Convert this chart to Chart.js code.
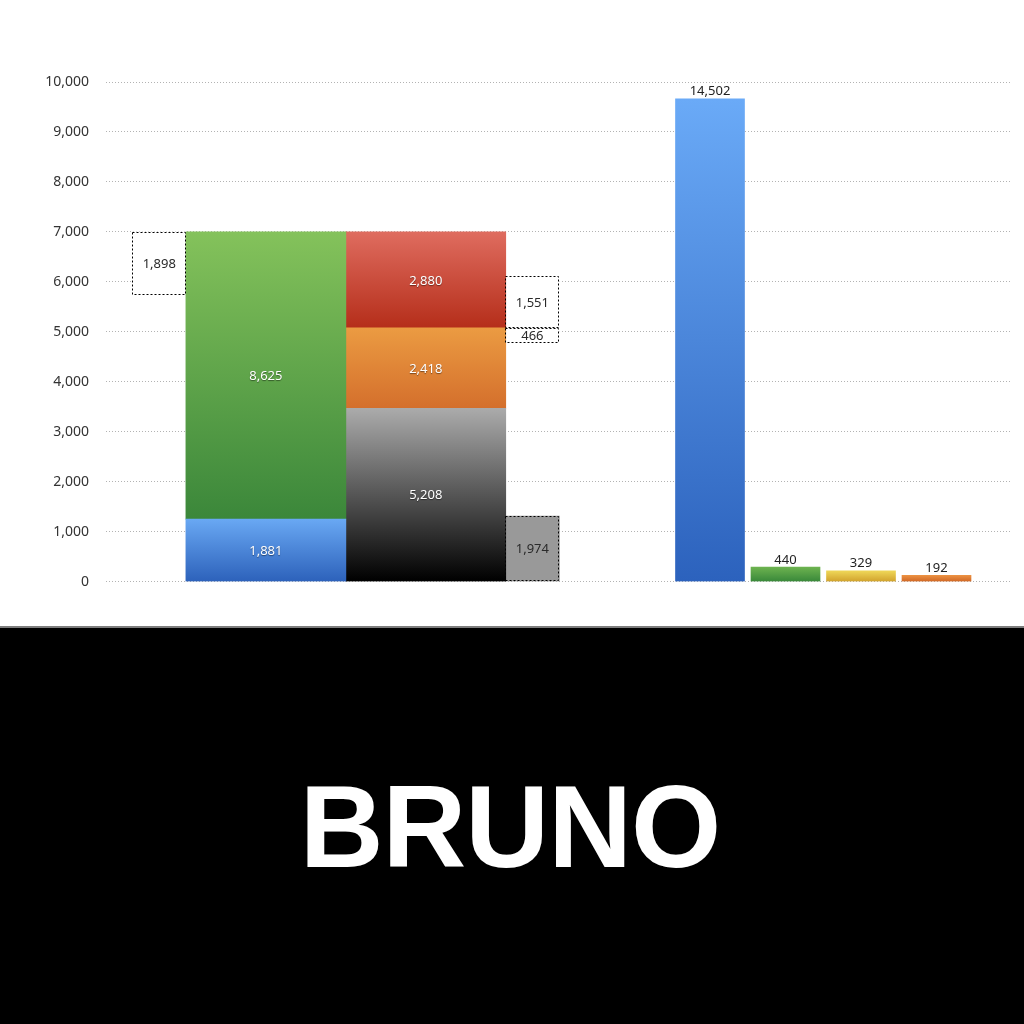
<!DOCTYPE html>
<html lang="ja">
<head>
<meta charset="utf-8">
<title>BRUNO</title>
<script src="https://cdn.jsdelivr.net/npm/chart.js@4.4.0/dist/chart.umd.min.js"></script>
<style>
  html, body { margin: 0; padding: 0; background: #fff; width: 1024px; height: 1024px; overflow: hidden; }
  #chartBox { position: absolute; left: 0; top: 0; width: 1024px; height: 626px; }
  #rule { position: absolute; left: 0; top: 626px; width: 1024px; height: 2px; background: #7d7d7d; }
  #band { position: absolute; left: 0; top: 628px; width: 1024px; height: 396px; background: #000; }
  #brand { position: absolute; left: 0; top: 769px; width: 1020px; text-align: center; color: #fff;
           font-family: "Liberation Sans", Arial, sans-serif; font-weight: 700; font-size: 116px;
           line-height: 116px; letter-spacing: -1px; }
</style>
</head>
<body>
<div id="chartBox"><canvas id="c"></canvas></div>
<div id="rule"></div>
<div id="band"></div>
<div id="brand">BRUNO</div>
<script>
// ===== DATA (百万円) =====
// 貸借対照表: left column = 資産, right column = 負債・純資産
const assetCategories = ['固定資産', '流動資産'];
const assetValues = [1881, 8625];
const liabCategories = ['純資産', '固定負債', '流動負債'];
const liabValues = [5208, 2418, 2880];
// breakdown items drawn as dotted boxes
const cashAndDeposits = 1898;   // 流動資産の内訳
const currentLiabItem = 1551;   // 流動負債の内訳
const fixedLiabItem = 466;      // 固定負債の内訳
const retainedEarnings = 1974;  // 利益剰余金 (純資産の内訳)
// 損益計算書
const plCategories = ['売上高', '営業利益', '経常利益', '当期純利益'];
const plValues = [14502, 440, 329, 192];
// axis tick labels
const yTickLabels = ['0', '1,000', '2,000', '3,000', '4,000', '5,000', '6,000', '7,000', '8,000', '9,000', '10,000'];

// ===== LAYOUT (category slots, spacers are '') =====
const bsSlots = ['', '現金及び預金', '', '資産', '', '', '負債・純資産', '', '内訳',
                 '', '', '', '', '', '', '', '', ''];
const plSlots = ['', '', '', '', '', '', '', '', ...plCategories, ''];
const bsTickSpan = 7;               // balance sheet is drawn 7 ticks tall
const totalAssets = assetValues.reduce((a, b) => a + b, 0);
const rawPerTick = totalAssets / bsTickSpan;

// ===== STYLES =====
const assetStyles = [['#69a8f3', '#2d62bb'], ['#84c25b', '#3b873a']];
const liabStyles = [['#ababab', '#000000'], ['#eb9b42', '#d46f2c'], ['#df6c5f', '#b52e1a']];
const plStyles = [['#6aaaf7', '#2c62bd'], ['#6db350', '#3a893a'], ['#efd758', '#d2a42e'], ['#ec9142', '#d26a26']];

const onSlot = (slots, name, v) => slots.map(s => (s === name ? v : null));

function grad(pair) {
  return (c) => {
    const el = c.element;
    if (!el || !Number.isFinite(el.y) || !Number.isFinite(el.base) || el.y === el.base) return pair[1];
    const g = c.chart.ctx.createLinearGradient(0, Math.min(el.y, el.base), 0, Math.max(el.y, el.base));
    g.addColorStop(0, pair[0]);
    g.addColorStop(1, pair[1]);
    return g;
  };
}

const liabBoundary = liabValues[0] + liabValues[1]; // 純資産 + 固定負債

const datasets = [
  ...assetCategories.map((name, i) => ({
    label: name, xAxisID: 'xbs', stack: 'assets', barThickness: 160,
    data: onSlot(bsSlots, '資産', assetValues[i]),
    backgroundColor: grad(assetStyles[i]), valueLabel: 'inside'
  })),
  ...liabCategories.map((name, i) => ({
    label: name, xAxisID: 'xbs', stack: 'liab', barThickness: 160,
    data: onSlot(bsSlots, '負債・純資産', liabValues[i]),
    backgroundColor: grad(liabStyles[i]), valueLabel: 'inside'
  })),
  {
    label: '現金及び預金', xAxisID: 'xbs', stack: 'cash', barThickness: 54,
    data: onSlot(bsSlots, '現金及び預金', [totalAssets - cashAndDeposits, totalAssets]),
    backgroundColor: '#ffffff', dotted: true, valueLabel: 'inside', labelColor: '#2a2a2a'
  },
  {
    label: '流動負債の内訳', xAxisID: 'xbs', stack: 'cl', barThickness: 54,
    data: onSlot(bsSlots, '内訳', [liabBoundary, liabBoundary + currentLiabItem]),
    backgroundColor: '#ffffff', dotted: true, valueLabel: 'inside', labelColor: '#2a2a2a'
  },
  {
    label: '固定負債の内訳', xAxisID: 'xbs', stack: 'fl', barThickness: 54,
    data: onSlot(bsSlots, '内訳', [liabBoundary - fixedLiabItem, liabBoundary]),
    backgroundColor: '#ffffff', dotted: true, valueLabel: 'inside', labelColor: '#2a2a2a'
  },
  {
    label: '利益剰余金', xAxisID: 'xbs', stack: 're', barThickness: 54,
    data: onSlot(bsSlots, '内訳', [0, retainedEarnings]),
    backgroundColor: '#999999', dotted: true, valueLabel: 'inside', labelColor: '#2a2a2a'
  },
  {
    label: '損益計算書', xAxisID: 'xpl', stack: 'pl', barThickness: 69,
    data: plSlots.map(s => { const i = plCategories.indexOf(s); return i < 0 ? null : plValues[i]; }),
    backgroundColor: (c) => {
      const i = plCategories.indexOf(plSlots[c.dataIndex]);
      return grad(plStyles[i < 0 ? 0 : i])(c);
    },
    valueLabel: 'above'
  }
];

const valueLabels = {
  id: 'valueLabels',
  afterDatasetsDraw(chart) {
    const ctx = chart.ctx;
    chart.data.datasets.forEach((ds, di) => {
      const meta = chart.getDatasetMeta(di);
      meta.data.forEach((el, i) => {
        const raw = ds.data[i];
        if (raw === null || raw === undefined) return;
        const p = el.getProps(['x', 'y', 'base', 'width'], true);
        const top = Math.min(p.y, p.base), bottom = Math.max(p.y, p.base);
        if (ds.dotted) {
          ctx.save();
          ctx.setLineDash([2, 2]);
          ctx.strokeStyle = '#000';
          ctx.lineWidth = 1;
          const l = Math.round(p.x - p.width / 2), r = Math.round(p.x + p.width / 2);
          const t = Math.round(top), b = Math.round(bottom);
          ctx.strokeRect(l + 0.5, t + 0.5, r - l - 1, b - t - 1);
          ctx.restore();
        }
        const v = Array.isArray(raw) ? Math.abs(raw[1] - raw[0]) : raw;
        const text = v.toLocaleString('en-US');
        ctx.save();
        ctx.font = '13px "Noto Sans"';
        ctx.textAlign = 'center';
        ctx.textBaseline = 'alphabetic';
        if (ds.valueLabel === 'above') {
          ctx.fillStyle = '#222';
          ctx.fillText(text, p.x, top - 3.5);
        } else {
          if (ds.labelColor) {
            ctx.fillStyle = ds.labelColor;
          } else {
            ctx.fillStyle = '#ffffff';
            ctx.shadowColor = 'rgba(0,0,0,0.45)';
            ctx.shadowBlur = 1;
            ctx.shadowOffsetY = 1;
          }
          ctx.fillText(text, p.x, (top + bottom) / 2 + 4.7);
        }
        ctx.restore();
      });
    });
  }
};

const chart = new Chart(document.getElementById('c'), {
  type: 'bar',
  data: { datasets },
  options: {
    responsive: true,
    maintainAspectRatio: false,
    animation: false,
    events: [],
    layout: { padding: { left: 0, right: 12, top: 82, bottom: 44.3 } },
    datasets: { bar: { grouped: false, borderWidth: 0 } },
    plugins: { legend: { display: false }, tooltip: { enabled: false } },
    scales: {
      x: { display: false },
      xbs: { type: 'category', axis: 'x', labels: bsSlots, offset: false, display: false },
      xpl: { type: 'category', axis: 'x', labels: plSlots, offset: false, display: false },
      y: {
        type: 'linear', position: 'left', stacked: true,
        min: 0, max: rawPerTick * (yTickLabels.length - 1),
        afterBuildTicks: (s) => { s.ticks = yTickLabels.map((_, i) => ({ value: i * rawPerTick })); },
        afterFit: (s) => { s.width = 106; },
        ticks: {
          callback: (v, i) => yTickLabels[i],
          color: '#333', padding: 17,
          font: { family: '"Noto Sans"', size: 14 }
        },
        grid: { color: '#b3b3b3', lineWidth: 1, drawTicks: false },
        border: { display: false, dash: [1, 2] }
      }
    }
  },
  plugins: [valueLabels]
});
chart.update();
</script>
</body>
</html>
